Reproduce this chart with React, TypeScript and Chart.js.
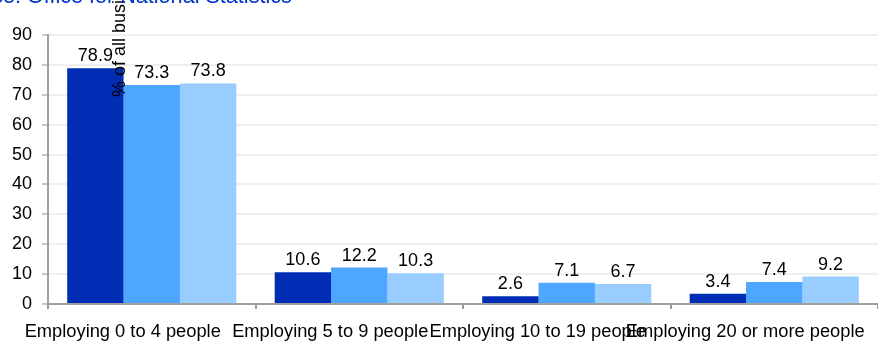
import React, { useEffect, useRef } from "react";
import { Chart, registerables } from "chart.js";

Chart.register(...registerables);

const categories = [
  "Employing 0 to 4 people",
  "Employing 5 to 9 people",
  "Employing 10 to 19 people",
  "Employing 20 or more people",
];
const seriesNames = ["Series 1", "Series 2", "Series 3"];
const series1 = [78.9, 10.6, 2.6, 3.4];
const series2 = [73.3, 12.2, 7.1, 7.4];
const series3 = [73.8, 10.3, 6.7, 9.2];
const seriesColors = ["#002DB3", "#4DA6FF", "#99CCFF"];
const titleText = "Source: Office for National Statistics";
const titleLead = "Source: ";
const yTitleText = "% of all businesses";
const yMax = 90;
const yStep = 10;

const FONT = "'Liberation Sans', Arial, sans-serif";

const overlayPlugin = {
  id: "overlay",
  afterDatasetsDraw(chart: any) {
    const ctx = chart.ctx;
    ctx.save();
    ctx.fillStyle = "#000";
    ctx.font = `18px ${FONT}`;
    ctx.textAlign = "center";
    ctx.textBaseline = "alphabetic";
    chart.data.datasets.forEach((ds: any, di: number) => {
      const meta = chart.getDatasetMeta(di);
      meta.data.forEach((bar: any, i: number) => {
        ctx.fillText(String(ds.data[i]), bar.x, bar.y - 7);
      });
    });
    ctx.restore();
  },
  afterDraw(chart: any) {
    const ctx = chart.ctx;
    ctx.save();
    // y-axis title
    ctx.fillStyle = "#000";
    ctx.font = `18px ${FONT}`;
    ctx.translate(125, 97);
    ctx.rotate(-Math.PI / 2);
    ctx.textAlign = "left";
    ctx.textBaseline = "alphabetic";
    ctx.fillText(yTitleText, 0, 0);
    ctx.restore();

    ctx.save();
    const rest = titleText.slice(titleLead.length);
    ctx.font = `20px ${FONT}`;
    const w20 = ctx.measureText(rest).width;
    const size = (20 * 265) / w20;
    ctx.font = `${size}px ${FONT}`;
    const leadW = ctx.measureText(titleLead).width;
    ctx.fillStyle = "#0033CC";
    ctx.textAlign = "left";
    ctx.textBaseline = "alphabetic";
    ctx.fillText(titleText, 27 - leadW, 2.5);
    ctx.restore();
  },
};

export default function App() {
  const ref = useRef<HTMLCanvasElement>(null);
  useEffect(() => {
    if (!ref.current) return;
    const datasets = [series1, series2, series3].map((d, i) => ({
      label: seriesNames[i],
      data: d,
      backgroundColor: seriesColors[i],
      borderWidth: 0,
      categoryPercentage: 0.815,
      barPercentage: 1,
    }));
    const chart = new Chart(ref.current, {
      type: "bar",
      data: { labels: categories, datasets },
      options: {
        animation: false,
        responsive: false,
        maintainAspectRatio: false,
        layout: { padding: { top: 35, left: 0, right: 0, bottom: 0 } },
        plugins: {
          legend: { display: false },
          title: { display: false },
          tooltip: { enabled: false },
        },
        scales: {
          x: {
            grid: {
              display: true,
              offset: true,
              drawOnChartArea: false,
              drawTicks: true,
              tickLength: 5,
              tickColor: "#999999",
              lineWidth: 2,
            },
            border: { display: true, color: "#a0a0a0", width: 2 },
            ticks: {
              color: "#000",
              font: { family: FONT, size: 18.3 },
              maxRotation: 0,
              minRotation: 0,
              autoSkip: false,
              padding: 12,
              labelOffset: -29,
            },
            afterFit(scale: any) {
              scale.height = 43;
              scale.paddingLeft = 0;
              scale.paddingRight = 0;
            },
          },
          y: {
            min: 0,
            max: yMax,
            ticks: {
              stepSize: yStep,
              color: "#000",
              font: { family: FONT, size: 18 },
              padding: 10,
            },
            grid: {
              color: "#efefef",
              lineWidth: 2,
              tickLength: 6,
              tickColor: "#c8c8c8",
            },
            border: { display: true, color: "#a0a0a0", width: 2 },
            afterFit(scale: any) {
              scale.width = 48;
              scale.paddingTop = 0;
              scale.paddingBottom = 0;
            },
          },
        },
      },
      plugins: [overlayPlugin],
    });
    return () => chart.destroy();
  }, []);
  return (
    <div style={{ position: "fixed", left: 0, top: 0, width: 878, height: 347 }}>
      <canvas ref={ref} width={878} height={347} style={{ width: 878, height: 347, display: "block" }} />
    </div>
  );
}
